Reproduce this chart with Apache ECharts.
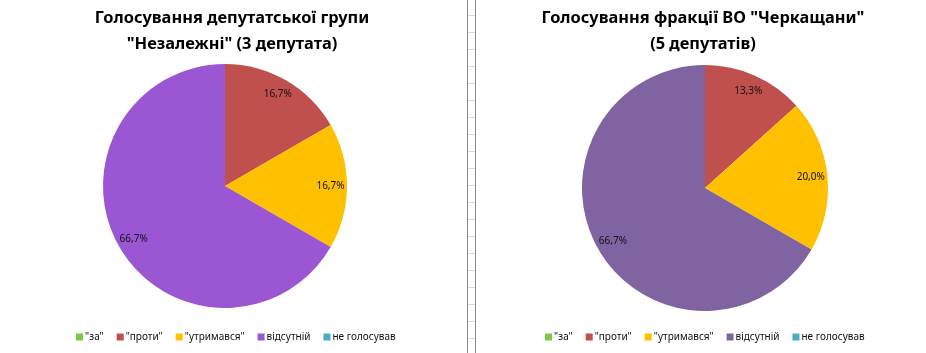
<!DOCTYPE html>
<html>
<head>
<meta charset="utf-8">
<script src="https://cdn.jsdelivr.net/npm/echarts@6/dist/echarts.min.js"></script>
<style>
    html, body { margin: 0; padding: 0; background: #fff; }
    #chart { width: 926px; height: 353px; }
</style>
</head>
<body>
<div id="chart"></div>
<script>
// категорії голосування
const categories = ['"за"', '"проти"', '"утримався"', 'відсутній', 'не голосував']
// група "Незалежні"
const leftValues = [0, 1, 1, 4, 0]
// фракція ВО "Черкащани"
const rightValues = [0, 2, 3, 10, 0]
const leftColors = ['#7cc943', '#c0504d', '#ffc000', '#9b57d3', '#4bacc6']
const rightColors = ['#7cc943', '#c0504d', '#ffc000', '#8064a2', '#4bacc6']
const leftTitle = 'Голосування депутатської групи\n"Незалежні" (3 депутата)'
const rightTitle = 'Голосування фракції ВО "Черкащани"\n(5 депутатів)'

const font = 'Noto Sans'

const chart = echarts.init(document.getElementById('chart'))

// підпис у відсотках з комою
function pctLabel(p) {
    if (!p.value) return ''
    return p.percent.toFixed(1).replace('.', ',') + '%'
}

function pieSeries(values, colors, center, r) {
    const data = values.map((v, i) => ({ name: categories[i], value: v, itemStyle: { color: colors[i] } }))
    return [
        {
            type: 'pie',
            center: center,
            radius: [0, r],
            startAngle: 90,
            label: { show: false },
            labelLine: { show: false },
            emphasis: { disabled: true },
            data: data
        },
        // прозоре кільце лише для підписів (ближче до краю)
        {
            type: 'pie',
            center: center,
            radius: [r * 0.68, r],
            startAngle: 90,
            silent: true,
            itemStyle: { color: 'transparent' },
            label: {
                show: true,
                position: 'inside',
                rotate: false,
                formatter: pctLabel,
                color: '#111',
                fontFamily: font,
                fontSize: 10
            },
            labelLayout: () => ({ rotate: 0 }),
            labelLine: { show: false },
            data: values.map((v, i) => ({ name: categories[i], value: v, itemStyle: { color: 'transparent' } }))
        }
    ]
}

function legendOf(colors, left) {
    return {
        left: left,
        top: 332,
        padding: 0,
        icon: 'rect',
        itemWidth: 7,
        itemHeight: 7,
        itemGap: 13,
        selectedMode: false,
        textStyle: { fontFamily: font, fontSize: 10, color: '#111', padding: [0, 0, 0, -3] },
        data: categories.map((c, i) => ({ name: c, itemStyle: { color: colors[i] } }))
    }
}

// роздільник між діаграмами (межа комірок Excel)
const sepGraphics = [
    { type: 'line', shape: { x1: 467.5, y1: 0, x2: 467.5, y2: 353 }, style: { stroke: '#8a8a8a', lineWidth: 1 } },
    { type: 'line', shape: { x1: 475.5, y1: 0, x2: 475.5, y2: 353 }, style: { stroke: '#8a8a8a', lineWidth: 1 } }
]
for (let y = 15.5; y < 353; y += 17) {
    sepGraphics.push({ type: 'line', shape: { x1: 468, y1: y, x2: 475, y2: y }, style: { stroke: '#d9d9d9', lineWidth: 1 } })
}

const titleStyle = { fontFamily: font, fontWeight: 'bold', fontSize: 16.4, lineHeight: 26, color: '#000' }

const option = {
    animation: false,
    title: [
        { text: leftTitle, left: 232, top: 5, padding: 0, textAlign: 'center', textStyle: titleStyle },
        { text: rightTitle, left: 703, top: 5, padding: 0, textAlign: 'center', textStyle: titleStyle }
    ],
    legend: [legendOf(leftColors, 76), legendOf(rightColors, 545)],
    graphic: sepGraphics,
    series: [
        ...pieSeries(leftValues, leftColors, [225, 186], 122),
        ...pieSeries(rightValues, rightColors, [705, 188], 123)
    ]
}

chart.setOption(option)
</script>
</body>
</html>
